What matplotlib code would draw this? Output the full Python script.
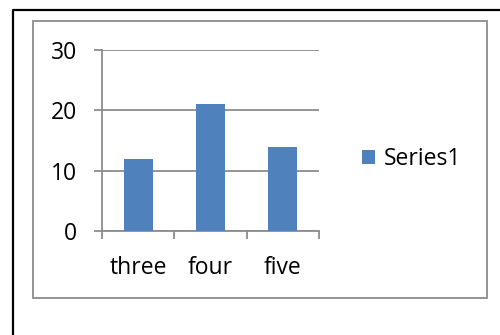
import matplotlib.pyplot as plt
from matplotlib.patches import Rectangle
from matplotlib.lines import Line2D

categories = ["three", "four", "five"]
values = [12, 21, 14]
series_name = "Series1"

plt.rcParams['font.family'] = ['Open Sans', 'DejaVu Sans']

fig = plt.figure(figsize=(5, 3.35), dpi=100)
W, H = 500.0, 335.0

# outer black frame (left and top only visible)
fig.add_artist(Line2D([13 / W, 13 / W, 1.0], [0.0, 1 - 10 / H, 1 - 10 / H],
                      color="black", lw=1.6, transform=fig.transFigure))
# grey chart area box
fig.add_artist(Rectangle((33 / W, 1 - 298 / H), (487 - 33) / W, (298 - 21) / H,
                         fill=False, edgecolor="#8c8c8c", lw=1.3,
                         transform=fig.transFigure))

ax = fig.add_axes([102 / W, 1 - 231 / H, (319 - 102) / W, (231 - 50) / H])
x = range(len(categories))
bars = ax.bar(x, values, width=0.4, color="#4f81bd", label=series_name, zorder=3)

ax.set_xlim(-0.5, 2.5)
ax.set_ylim(0, 30)
ax.set_yticks([0, 10, 20, 30])
ax.set_xticks(list(x))
ax.set_xticklabels(categories)
ax.set_xticks([-0.5, 0.5, 1.5, 2.5], minor=True)

ax.grid(axis="y", color="#8c8c8c", lw=1.3, zorder=0)
for s in ["top", "right"]:
    ax.spines[s].set_visible(False)
for s in ["left", "bottom"]:
    ax.spines[s].set_color("#8c8c8c")
    ax.spines[s].set_linewidth(1.3)

ax.tick_params(axis="y", length=6, width=1.3, color="#8c8c8c", pad=12,
               labelsize=16.5, labelcolor="black")
ax.tick_params(axis="x", which="major", length=0, pad=18, labelsize=16.5,
               labelcolor="black")
ax.tick_params(axis="x", which="minor", length=6, width=1.3, color="#8c8c8c")

leg = fig.legend(handles=[bars], labels=[series_name], loc="center left",
                 bbox_to_anchor=(341 / W, 1 - 159 / H), frameon=False,
                 fontsize=16.5, handlelength=0.6, handleheight=0.6,
                 handletextpad=0.35)

fig.savefig("out.png", dpi=100)
